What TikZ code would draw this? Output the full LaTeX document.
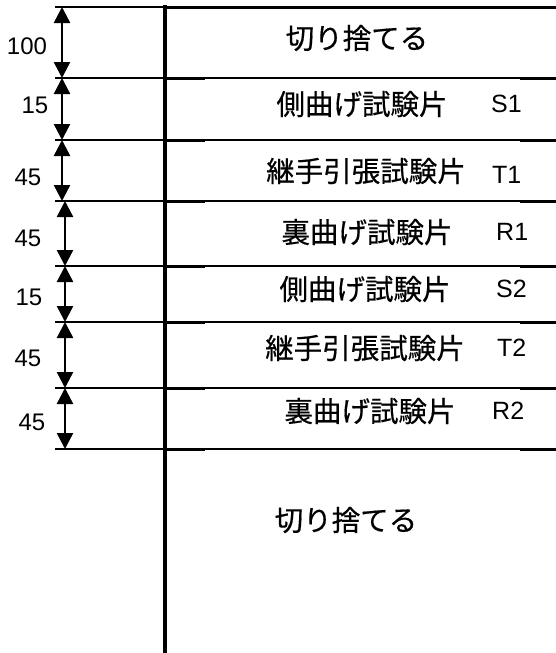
\documentclass[tikz,border=0pt]{standalone}
\usepackage{fontspec}
\setmainfont{Liberation Sans}
\newfontfamily\jpfont[FakeBold=0.5]{Noto Sans CJK JP}
\usetikzlibrary{arrows.meta}

\begin{document}
\begin{tikzpicture}[x=1pt,y=-1pt]
\tikzstyle{every node}+=[inner sep=0pt]
\tikzstyle{dimarrow}=[line width=2.5pt,{Triangle[width=16pt,length=16pt]}-{Triangle[width=16pt,length=16pt]}]
\tikzstyle{dimtext}=[font=\fontsize{24}{25}\selectfont]
\tikzstyle{jptext}=[font=\jpfont\fontsize{28.5}{30}\selectfont]
\tikzstyle{codetext}=[font=\fontsize{25}{26}\selectfont,anchor=west]
\useasboundingbox (0,0) rectangle (556,653);
% cut lines
\foreach \n/\y in {0/7,1/78,2/140,3/201,4/266,5/322,6/388,7/449} {
  \coordinate (l\n) at (55,\y);
  \coordinate (m\n) at (165,\y);
  \coordinate (s\n) at (205,\y);
  \coordinate (t\n) at (520,\y);
  \coordinate (r\n) at (556,\y);
}
\coordinate (top) at (165,5);
\coordinate (bot) at (165,653);
\draw [line width=4pt] (top) -- (bot);
\draw [line width=3pt] (m0) -- (r0);
\draw [line width=1.2pt] (l0) -- (m0);
\foreach \n in {1,...,7} {
  \draw [line width=1.2pt] (l\n) -- (r\n);
  \draw [line width=3pt] (m\n) -- (s\n);
  \draw [line width=3pt] (t\n) -- (r\n);
}
% dimensions
\foreach \n/\ya/\yb/\x in {0/7/78/62,1/78/140/62,2/140/201/62,3/201/266/65,4/266/322/65,5/322/388/65,6/388/449/65} {
  \coordinate (u\n) at (\x,\ya);
  \coordinate (v\n) at (\x,\yb);
  \draw [dimarrow] (u\n) -- (v\n);
}
\node [dimtext] (d0) at (27,46) {100};
\node [dimtext] (d1) at (35,105) {15};
\node [dimtext] (d2) at (28,177) {45};
\node [dimtext] (d3) at (28,238) {45};
\node [dimtext] (d4) at (29,297) {15};
\node [dimtext] (d5) at (28,358) {45};
\node [dimtext] (d6) at (32,422) {45};
% pieces
\node [jptext] (cut1) at (357,38) {切り捨てる};
\node [jptext] (p1) at (362,104) {側曲げ試験片};
\node [codetext] (c1) at (491,104) {S1};
\node [jptext] (p2) at (366,171) {継手引張試験片};
\node [codetext] (c2) at (492,175) {T1};
\node [jptext] (p3) at (367,232) {裏曲げ試験片};
\node [codetext] (c3) at (496,232) {R1};
\node [jptext] (p4) at (365,289) {側曲げ試験片};
\node [codetext] (c4) at (496,289) {S2};
\node [jptext] (p5) at (365,348) {継手引張試験片};
\node [codetext] (c5) at (497,348) {T2};
\node [jptext] (p6) at (370,411) {裏曲げ試験片};
\node [codetext] (c6) at (492,411) {R2};
\node [jptext] (cut2) at (346,520) {切り捨てる};
\end{tikzpicture}
\end{document}
